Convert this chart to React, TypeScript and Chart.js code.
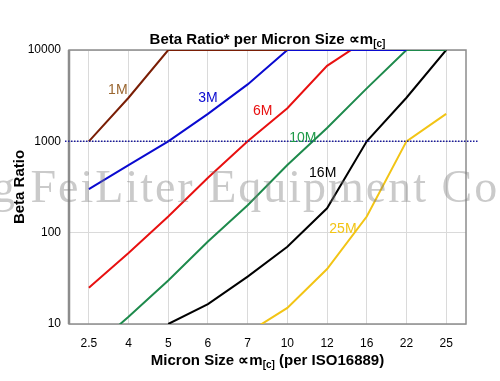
import React, { useEffect, useRef } from "react";
import { Chart, registerables } from "chart.js";

Chart.register(...registerables);

// ---- data ----
const categories = ["2.5", "4", "5", "6", "7", "10", "12", "16", "22", "25"];
const beta1M = [1000, 3000, 10000, 10000, 10000, 10000, null, null, null, null];
const beta3M = [300, 550, 1000, 2000, 4200, 10000, 10000, 10000, 10000, null];
const beta6M = [25, 60, 150, 400, 1000, 2300, 6700, 13000, null, null];
const beta10M = [5, 12, 30, 80, 200, 550, 1400, 3800, 10000, 10000];
const beta16M = [null, null, 10, 16.5, 33, 70, 185, 1000, 3000, 10000];
const beta25M = [null, null, null, null, 8, 15, 40, 150, 1000, 2000];
const seriesNames = ["1M", "3M", "6M", "10M", "16M", "25M"];
const yTicks = [10, 100, 1000, 10000];
const referenceBeta = 1000;
// label anchors in data coordinates (category index, value)
const labelIndex = [0.73, 3.0, 4.38, 5.39, 5.89, 6.4];
const labelValue = [3660, 2990, 2160, 1095, 444, 109];

const titleMain = "Beta Ratio* per Micron Size \u221Dm";
const titleSub = "[c]";
const xTitleMain = "Micron Size \u221Dm";
const xTitleSub = "[c]";
const xTitleTail = " (per ISO16889)";
const yTitle = "Beta Ratio";
const watermark = "g FeiLiter Equipment Co";

const lineColors = ["#7a1e05", "#0a0ad0", "#e81010", "#1e8a4c", "#000000", "#f2c415"];
const labelColors = ["#9a6630", "#0a0ad0", "#e81010", "#1e9a48", "#000000", "#f2c415"];

const SANS = '"Liberation Sans", Arial, sans-serif';

function drawRich(ctx: CanvasRenderingContext2D, parts: { t: string; s: number; dy: number }[], cx: number, base: number) {
  let total = 0;
  const widths = parts.map((p) => {
    ctx.font = `bold ${p.s}px ${SANS}`;
    const w = ctx.measureText(p.t).width;
    total += w;
    return w;
  });
  let x = cx - total / 2;
  parts.forEach((p, i) => {
    ctx.font = `bold ${p.s}px ${SANS}`;
    ctx.fillText(p.t, x, base + p.dy);
    x += widths[i];
  });
}

const decorPlugin = {
  id: "decor",
  beforeDatasetsDraw(chart: any) {
    const { ctx, chartArea: a } = chart;
    ctx.save();
    ctx.strokeStyle = "#8c8c8c";
    ctx.lineWidth = 1.5;
    ctx.strokeRect(a.left, a.top, a.right - a.left, a.bottom - a.top);
    ctx.beginPath();
    ctx.lineWidth = 2.5;
    ctx.moveTo(a.left, a.top);
    ctx.lineTo(a.left, a.bottom);
    ctx.stroke();
    ctx.restore();
  },
  afterDatasetsDraw(chart: any) {
    const { ctx, chartArea: a, scales } = chart;
    const y = scales.y.getPixelForValue(referenceBeta);
    ctx.save();
    ctx.strokeStyle = "#1a1a9a";
    ctx.lineWidth = 1.5;
    ctx.setLineDash([1.5, 1.5]);
    ctx.beginPath();
    ctx.moveTo(a.left - 4, y);
    ctx.lineTo(a.right + 12, y);
    ctx.stroke();
    ctx.setLineDash([]);

    // series labels
    ctx.font = `14px ${SANS}`;
    ctx.textAlign = "center";
    ctx.textBaseline = "middle";
    seriesNames.forEach((n, i) => {
      const lx = scales.x.getPixelForValue(0) + labelIndex[i] * (scales.x.getPixelForValue(1) - scales.x.getPixelForValue(0));
      const ly = scales.y.getPixelForValue(labelValue[i]);
      ctx.fillStyle = labelColors[i];
      ctx.fillText(n, lx, ly);
    });

    // titles
    ctx.fillStyle = "#000";
    ctx.textAlign = "left";
    ctx.textBaseline = "alphabetic";
    const cx = (a.left + a.right) / 2;
    drawRich(ctx, [{ t: titleMain, s: 15, dy: 0 }, { t: titleSub, s: 10, dy: 3 }], cx, a.top - 6);
    drawRich(
      ctx,
      [
        { t: xTitleMain, s: 15, dy: 0 },
        { t: xTitleSub, s: 10, dy: 3 },
        { t: xTitleTail, s: 15, dy: 0 },
      ],
      cx,
      a.bottom + 41
    );
    ctx.save();
    ctx.translate(24, (a.top + a.bottom) / 2);
    ctx.rotate(-Math.PI / 2);
    ctx.textAlign = "center";
    ctx.font = `bold 15px ${SANS}`;
    ctx.fillText(yTitle, 0, 0);
    ctx.restore();

    // watermark
    ctx.globalAlpha = 0.4;
    ctx.fillStyle = "#7a7a7a";
    ctx.font = `46px "Liberation Serif", serif`;
    (ctx as any).letterSpacing = "2px";
    ctx.textAlign = "left";
    ctx.fillText(watermark, -8, 202);
    (ctx as any).letterSpacing = "0px";
    ctx.restore();
  },
};

export default function App() {
  const ref = useRef<HTMLCanvasElement | null>(null);
  useEffect(() => {
    if (!ref.current) return;
    const all = [beta1M, beta3M, beta6M, beta10M, beta16M, beta25M];
    const chart = new Chart(ref.current, {
      type: "line",
      data: {
        labels: categories,
        datasets: all.map((d, i) => ({
          label: seriesNames[i],
          data: d,
          borderColor: lineColors[i],
          backgroundColor: lineColors[i],
          borderWidth: 2,
          pointRadius: 0,
          tension: 0,
          fill: false,
          spanGaps: false,
        })),
      },
      options: {
        animation: false,
        responsive: false,
        devicePixelRatio: 1,
        layout: { padding: { top: 50, right: 34, left: 0, bottom: 0 } },
        plugins: { legend: { display: false }, title: { display: false }, tooltip: { enabled: false } },
        scales: {
          x: {
            type: "category",
            offset: true,
            grid: { offset: false, color: "#dadada", drawTicks: false, lineWidth: 1 },
            border: { display: false },
            ticks: { color: "#000", font: { size: 12, family: SANS }, padding: 12, autoSkip: false, maxRotation: 0 },
            afterFit: (s: any) => {
              s.height = 57;
            },
          },
          y: {
            type: "logarithmic",
            min: 10,
            max: 10000,
            afterBuildTicks: (s: any) => {
              s.ticks = yTicks.map((v) => ({ value: v }));
            },
            afterFit: (s: any) => {
              s.width = 69;
            },
            grid: { color: "#dadada", drawTicks: false },
            border: { display: false },
            ticks: {
              color: "#000",
              font: { size: 12, family: SANS },
              padding: 8,
              callback: (v: any) => String(v),
            },
          },
        },
      },
      plugins: [decorPlugin],
    });
    return () => chart.destroy();
  }, []);
  return (
    <div style={{ position: "fixed", left: 0, top: 0, width: 500, height: 381, background: "#fff" }}>
      <canvas ref={ref} width={500} height={381} />
    </div>
  );
}
